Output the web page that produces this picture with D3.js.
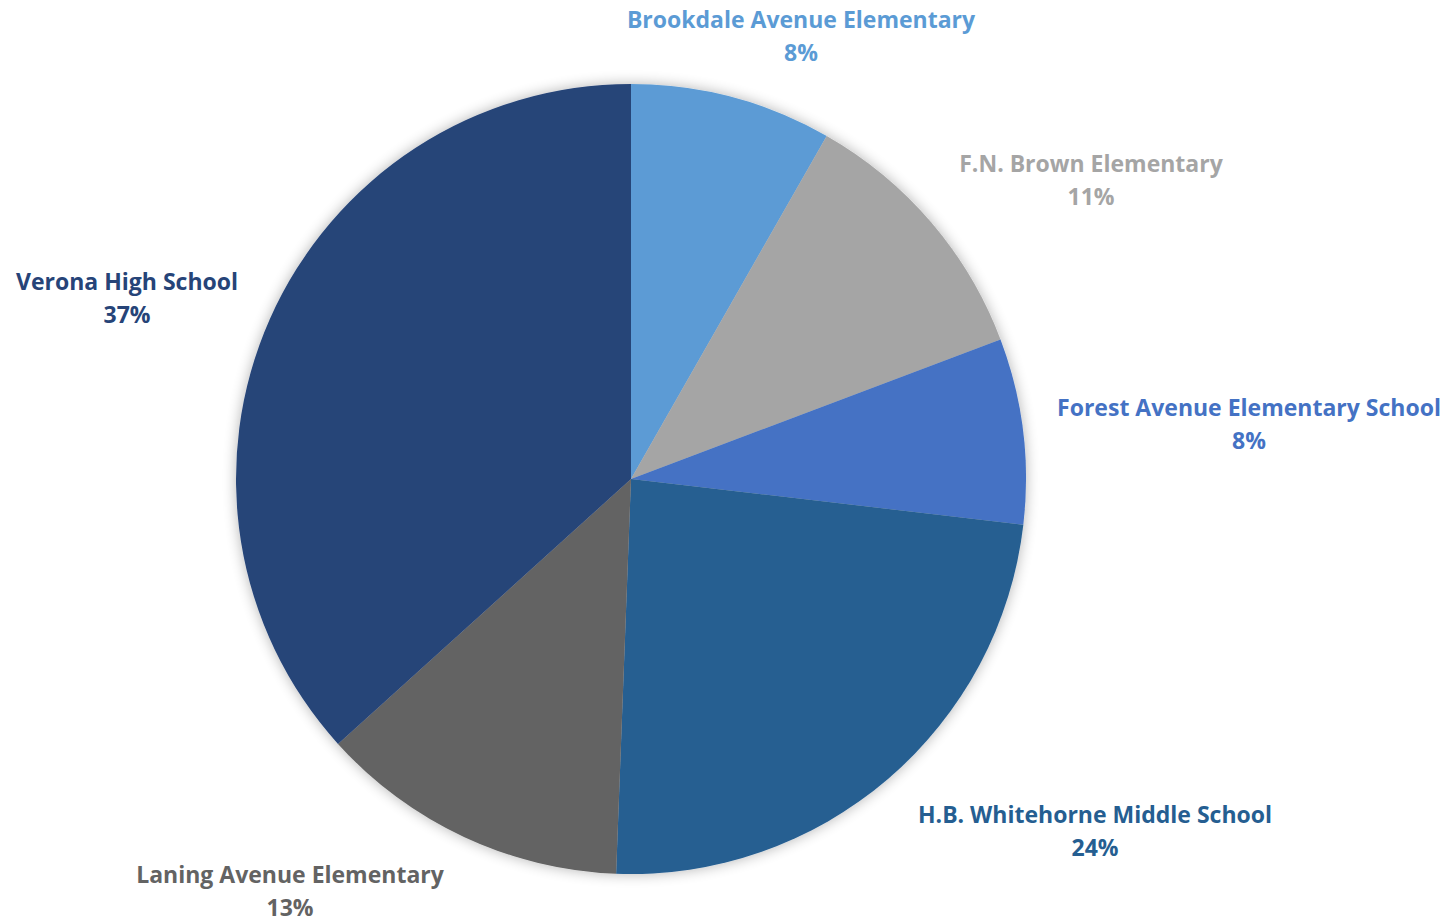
<!DOCTYPE html>
<html>
<head>
<meta charset="utf-8">
<script src="https://cdn.jsdelivr.net/npm/d3@7"></script>
<style>
  body { margin: 0; background: #ffffff; }
  svg { display: block; }
</style>
</head>
<body>
<svg class="chart"></svg>
<script>
// data
var schools = ["Brookdale Avenue Elementary", "F.N. Brown Elementary", "Forest Avenue Elementary School",
               "H.B. Whitehorne Middle School", "Laning Avenue Elementary", "Verona High School"];
var shares = [8.25, 11, 7.6, 23.75, 12.7, 36.7];
var colors = ["#5B9BD5", "#A5A5A5", "#4472C4", "#255E91", "#636363", "#264478"];

// where each data label sits (label centre, px)
var labelSpots = [[801, 20], [1091, 164], [1249, 408], [1095, 815], [290, 875], [127, 282]];

var width = 1446;
var height = 920;
var cx = 631, cy = 479, radius = 395;

var svg = d3.select(".chart")
  .attr("width", width)
  .attr("height", height);

// soft shadow like the office pie
var defs = svg.append("defs");
var filt = defs.append("filter").attr("id", "soft")
  .attr("x", "-20%").attr("y", "-20%").attr("width", "140%").attr("height", "140%");
filt.append("feGaussianBlur").attr("in", "SourceAlpha").attr("stdDeviation", 7).attr("result", "b");
filt.append("feComponentTransfer").attr("in", "b").attr("result", "s")
  .append("feFuncA").attr("type", "linear").attr("slope", 0.3);
var merge = filt.append("feMerge");
merge.append("feMergeNode").attr("in", "s");
merge.append("feMergeNode").attr("in", "SourceGraphic");

var pie = d3.pie().sort(null).value(function(d){return d;});
var arcs = pie(shares);
var arc = d3.arc().innerRadius(0).outerRadius(radius);
var total = d3.sum(shares);

var g = svg.append("g")
  .attr("transform", "translate(" + cx + "," + cy + ")")
  .attr("filter", "url(#soft)");

g.selectAll("path")
  .data(arcs)
  .enter()
  .append("path")
  .attr("d", arc)
  .attr("fill", function(d,i){return colors[i];});

// labels
var labels = svg.selectAll("g.lbl")
  .data(arcs)
  .enter()
  .append("g")
  .attr("class", "lbl")
  .attr("transform", function(d,i){return "translate(" + labelSpots[i][0] + "," + labelSpots[i][1] + ")";})
  .attr("fill", function(d,i){return colors[i];})
  .attr("font-family", "'Open Sans', Lato, sans-serif")
  .attr("font-weight", "bold")
  .attr("font-size", "23px")
  .attr("text-anchor", "middle");

labels.append("text")
  .attr("y", 8)
  .text(function(d,i){return schools[i];});

labels.append("text")
  .attr("y", 41)
  .text(function(d){return Math.round(d.value / total * 100) + "%";});
</script>
</body>
</html>
